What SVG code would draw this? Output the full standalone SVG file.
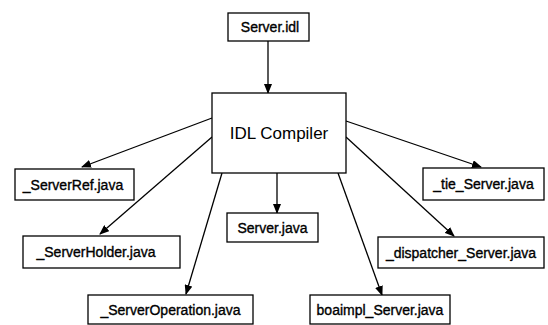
<svg xmlns="http://www.w3.org/2000/svg" width="548" height="325" viewBox="0 0 548 325">
<style>
.box{fill:#fff;stroke:#000;stroke-width:1.3}
.t{font-family:"Liberation Sans",Arial,sans-serif;font-size:14px;text-anchor:middle;fill:#000;stroke:#000;stroke-width:0.35}
.big{font-family:"Liberation Sans",Arial,sans-serif;font-size:17px;text-anchor:middle;fill:#000}
.c{stroke:#000;stroke-width:1.3;fill:none;marker-end:url(#ah)}
</style>
<defs>
<marker id="ah" markerWidth="10" markerHeight="8" refX="9" refY="4" orient="auto" markerUnits="userSpaceOnUse">
<path d="M0,0 L10,4 L0,8 Z" fill="#000"/>
</marker>
</defs>
<rect width="548" height="325" fill="#fff"/>
<g id="connectors">
<line class="c" x1="268" y1="41" x2="268" y2="93"/>
<line class="c" x1="212" y1="118" x2="82" y2="167"/>
<line class="c" x1="212" y1="137" x2="100" y2="234"/>
<line class="c" x1="222" y1="173" x2="186" y2="294"/>
<line class="c" x1="277" y1="173" x2="277" y2="213"/>
<line class="c" x1="338" y1="173" x2="382" y2="295"/>
<line class="c" x1="346" y1="121" x2="481" y2="167"/>
<line class="c" x1="346" y1="137" x2="454" y2="236"/>
</g>
<g id="server_idl"><rect class="box" x="228" y="13" width="81" height="28"/><text class="t" x="270" y="32">Server.idl</text></g>
<g id="idl_compiler"><rect class="box" x="212" y="93" width="134" height="80"/><text class="big" x="279" y="139">IDL Compiler</text></g>
<g id="serverref"><rect class="box" x="15" y="169" width="119" height="31"/><text class="t" x="73" y="189.5">_ServerRef.java</text></g>
<g id="serverholder"><rect class="box" x="23" y="236" width="157" height="32"/><text class="t" x="96" y="256.5">_ServerHolder.java</text></g>
<g id="serveroperation"><rect class="box" x="88" y="295" width="165" height="29"/><text class="t" x="170.5" y="314.5">_ServerOperation.java</text></g>
<g id="server_java"><rect class="box" x="227" y="213" width="91" height="29"/><text class="t" x="272.5" y="232.5">Server.java</text></g>
<g id="boaimpl"><rect class="box" x="310" y="295" width="140" height="29"/><text class="t" x="380" y="314.5">boaimpl_Server.java</text></g>
<g id="tie_server"><rect class="box" x="423" y="168" width="121" height="32"/><text class="t" x="483.5" y="189">_tie_Server.java</text></g>
<g id="dispatcher"><rect class="box" x="378" y="237" width="166" height="31"/><text class="t" x="461" y="257.5">_dispatcher_Server.java</text></g>
</svg>
